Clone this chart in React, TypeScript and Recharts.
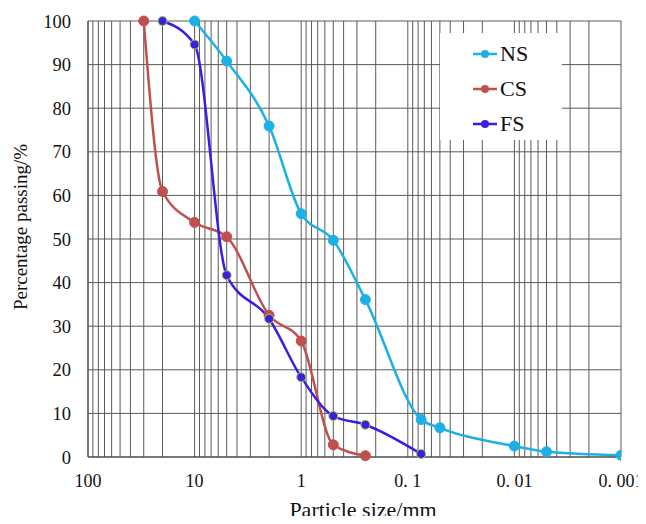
import { LineChart, Line, XAxis, YAxis, CartesianGrid, Label } from 'recharts';

// particle size (mm) and percentage passing (%) for each sand
const nsSize = [10, 5, 2, 1, 0.5, 0.25, 0.075, 0.05, 0.01, 0.005, 0.001];
const nsPass = [100, 90.8, 75.9, 55.8, 49.7, 36.1, 8.6, 6.7, 2.5, 1.2, 0.4];

const csSize = [30, 20, 10, 5, 2, 1, 0.5, 0.25];
const csPass = [100, 60.9, 53.8, 50.5, 32.5, 26.6, 2.8, 0.3];

const fsSize = [20, 10, 5, 2, 1, 0.5, 0.25, 0.075];
const fsPass = [100, 94.6, 41.7, 31.7, 18.3, 9.4, 7.4, 0.7];

const majorTicks = [100, 10, 1, 0.1, 0.01, 0.001];
const majorLabels = ['100', '10', '1', '0. 1', '0. 01', '0. 001'];
const yTicks = [0, 10, 20, 30, 40, 50, 60, 70, 80, 90, 100];

const toRows = (sizes: number[], pass: number[]) =>
  sizes.map((size, i) => ({ size, pass: pass[i] }));

const nsData = toRows(nsSize, nsPass);
const csData = toRows(csSize, csPass);
const fsData = toRows(fsSize, fsPass);

// minor log ticks (1..9 in each decade) so the grid draws them
const gridTicks: number[] = [];
[0.001, 0.01, 0.1, 1, 10].forEach((d) => {
  for (let k = 1; k < 10; k++) gridTicks.push(+(d * k).toPrecision(3));
});
gridTicks.push(100);

const SERIES = [
  { name: 'NS', color: '#1cb0e6', data: nsData, r: 5, dotStroke: '#1cb0e6' },
  { name: 'CS', color: '#c0504d', data: csData, r: 5, dotStroke: '#c0504d' },
  { name: 'FS', color: '#3b1fe0', data: fsData, r: 4.5, dotStroke: '#a4cc3a' },
];

const FONT = '"Liberation Serif", "Times New Roman", serif';

const xLabel = (v: number) => {
  const i = majorTicks.findIndex((t) => Math.abs(t - v) < v * 1e-6);
  return i >= 0 ? majorLabels[i] : '';
};

const LegendBox = () => (
  <div
    style={{
      position: 'absolute',
      left: 440,
      top: 33,
      width: 122,
      height: 107,
      background: '#fff',
      boxSizing: 'border-box',
      paddingTop: 3,
      fontFamily: FONT,
    }}
  >
    {SERIES.map((s) => (
      <div key={s.name} style={{ display: 'flex', alignItems: 'center', height: 35 }}>
        <svg width={60} height={20}>
          <line x1={33} x2={57} y1={10} y2={10} stroke={s.color} strokeWidth={2.5} />
          <circle cx={45} cy={10} r={4} fill={s.color} />
        </svg>
        <span style={{ fontSize: 22, color: '#111', lineHeight: '22px' }}>{s.name}</span>
      </div>
    ))}
  </div>
);

export default function App() {
  return (
    <div style={{ position: 'relative', margin: -8, width: 646, height: 524 }}>
      <LineChart
        width={646}
        height={524}
        margin={{ top: 21, right: 25, bottom: 37, left: 0 }}
        style={{ fontFamily: FONT }}
      >
        <CartesianGrid stroke="#5a5a5a" strokeWidth={1} />
        <XAxis
          type="number"
          dataKey="size"
          scale="log"
          domain={[0.001, 100]}
          reversed
          ticks={gridTicks}
          interval={0}
          tickFormatter={xLabel}
          tickLine={false}
          axisLine={{ stroke: '#444' }}
          tick={{ fill: '#111', fontSize: 18, fontFamily: FONT }}
          tickMargin={11}
          allowDataOverflow
        >
          <Label
            content={() => (
              <text
                x={363}
                y={517}
                textAnchor="middle"
                style={{ fill: '#111', fontSize: 22, fontFamily: FONT }}
              >
                Particle size/mm
              </text>
            )}
          />
        </XAxis>
        <YAxis
          type="number"
          dataKey="pass"
          domain={[0, 100]}
          ticks={yTicks}
          width={88}
          tickLine={false}
          axisLine={{ stroke: '#444' }}
          tick={{ fill: '#111', fontSize: 18.5, fontFamily: FONT }}
          tickMargin={11}
        >
          <Label
            content={() => (
              <text
                x={20}
                y={227}
                transform="rotate(-90, 20, 227)"
                textAnchor="middle"
                dominantBaseline="central"
                style={{ fill: '#111', fontSize: 19, fontFamily: FONT }}
              >
                Percentage passing/%
              </text>
            )}
          />
        </YAxis>
        {SERIES.map((s) => (
          <Line
            key={s.name}
            name={s.name}
            data={s.data}
            dataKey="pass"
            type="monotone"
            stroke={s.color}
            strokeWidth={2.5}
            dot={{ r: s.r, fill: s.color, stroke: s.dotStroke, strokeWidth: 1, fillOpacity: 1 }}
            isAnimationActive={false}
          />
        ))}
      </LineChart>
      <LegendBox />
    </div>
  );
}
